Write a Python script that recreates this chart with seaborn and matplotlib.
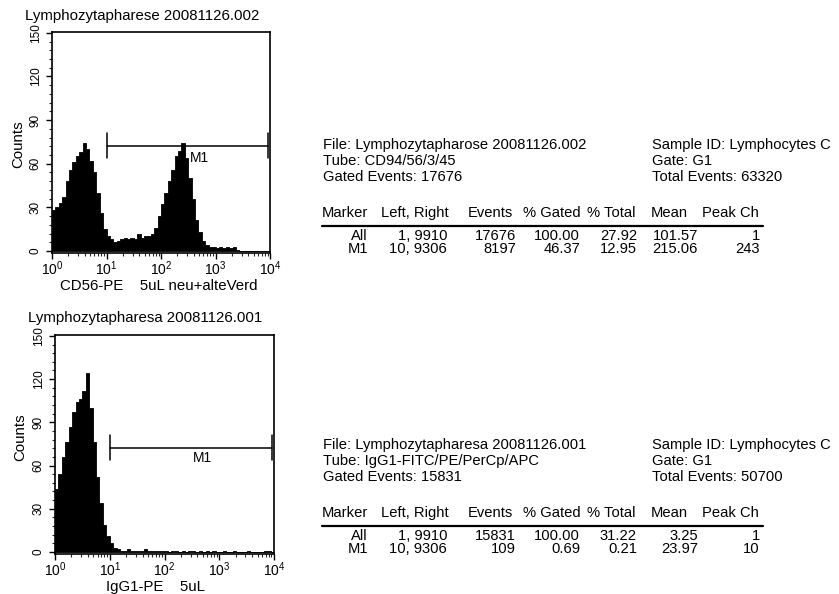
import numpy as np
import pandas as pd
import matplotlib
matplotlib.use("Agg")
import matplotlib.pyplot as plt
import seaborn as sns
from matplotlib.ticker import FixedLocator, FixedFormatter, LogLocator, NullFormatter
from matplotlib.lines import Line2D

# ---------------- data ----------------
bins_per_decade = 16
n_decades = 4

top_counts = [28, 30, 33, 37, 48, 56, 61, 65, 68, 74, 70, 62, 54, 40, 26, 15,
              10, 8, 6, 7, 8, 9, 8, 9, 8, 12, 9, 10, 10, 12, 16, 24,
              32, 40, 48, 56, 65, 69, 74, 64, 50, 36, 21, 13, 7, 4, 3, 3,
              2, 3, 2, 3, 2, 3, 1, 0, 0, 0, 0, 0, 0, 0, 0, 0]
bottom_counts = [44, 54, 66, 76, 87, 97, 104, 106, 112, 124, 100, 76, 52, 34, 19, 11,
                 6, 3, 2, 1, 1, 2, 1, 1, 1, 1, 2, 1, 1, 1, 1, 1,
                 1, 0, 1, 1, 0, 1, 0, 1, 1, 0, 1, 0, 1, 0, 1, 0,
                 0, 1, 0, 0, 1, 0, 0, 0, 1, 0, 0, 0, 0, 1, 1, 0]

top_title = "Lymphozytapharese 20081126.002"
bottom_title = "Lymphozytapharesa 20081126.001"
top_xlabel = "CD56-PE    5uL neu+alteVerd"
bottom_xlabel = "IgG1-PE    5uL"
ylabel = "Counts"
x_ticks = [1, 10, 100, 1000, 10000]
x_ticklabels = ["$10^{0}$", "$10^{1}$", "$10^{2}$", "$10^{3}$", "$10^{4}$"]
y_ticks = [0, 30, 60, 90, 120, 150]
marker_level = 72
marker_label = "M1"

top_info_left = ["File: Lymphozytapharose 20081126.002", "Tube: CD94/56/3/45", "Gated Events: 17676"]
top_info_right = ["Sample ID: Lymphocytes C", "Gate: G1", "Total Events: 63320"]
bottom_info_left = ["File: Lymphozytapharesa 20081126.001", "Tube: IgG1-FITC/PE/PerCp/APC", "Gated Events: 15831"]
bottom_info_right = ["Sample ID: Lymphocytes C", "Gate: G1", "Total Events: 50700"]

table_header = ["Marker", "Left, Right", "Events", "% Gated", "% Total", "Mean", "Peak Ch"]
top_rows = [["All", "1, 9910", "17676", "100.00", "27.92", "101.57", "1"],
            ["M1", "10, 9306", "8197", "46.37", "12.95", "215.06", "243"]]
bottom_rows = [["All", "1, 9910", "15831", "100.00", "31.22", "3.25", "1"],
               ["M1", "10, 9306", "109", "0.69", "0.21", "23.97", "10"]]
m1_left, m1_right = 10, 9306

# ---------------- style ----------------
sns.set_theme(style="white")
plt.rcParams['font.family'] = ['Liberation Sans', 'DejaVu Sans']
plt.rcParams['mathtext.fontset'] = 'custom'
plt.rcParams['mathtext.rm'] = 'Liberation Sans'
plt.rcParams['mathtext.it'] = 'Liberation Sans:italic'
plt.rcParams['mathtext.bf'] = 'Liberation Sans:bold'

W, H = 839, 594
fig = plt.figure(figsize=(W / 100, H / 100), dpi=100)
fig.patch.set_facecolor("white")

INFO_FS = 10.6


def fx(px):
    return px / W


def fy(py):
    return 1 - py / H


def make_panel(counts, box, title, title_xy, xlabel, xlabel_xy, ylabel_xy, m1_y):
    l, t, r, b = box
    ax = fig.add_axes([fx(l), fy(b), (r - l) / W, (b - t) / H])
    n = len(counts)
    edges = np.linspace(0, n_decades, n + 1)
    centers = 10 ** ((edges[:-1] + edges[1:]) / 2)
    df = pd.DataFrame({"fl": centers, "count": counts})
    sns.histplot(data=df, x="fl", weights="count", bins=n, binrange=(0, n_decades),
                 log_scale=True, element="step", fill=True, color="black",
                 alpha=1, linewidth=0.6, edgecolor="black", ax=ax)
    ax.set_xlim(1, 10000)
    ax.set_ylim(-1.4, 150.6)
    ax.set_xlabel("")
    ax.set_ylabel("")
    ax.xaxis.set_major_locator(FixedLocator(x_ticks))
    ax.xaxis.set_major_formatter(FixedFormatter(x_ticklabels))
    ax.xaxis.set_minor_locator(LogLocator(base=10, subs=np.arange(2, 10), numticks=20))
    ax.xaxis.set_minor_formatter(NullFormatter())
    ax.yaxis.set_major_locator(FixedLocator(y_ticks))
    ax.yaxis.set_minor_locator(FixedLocator(np.arange(0, 151, 6)))
    ax.tick_params(axis="x", which="major", direction="out", length=4.0, width=1.0,
                   labelsize=10, pad=0.5, colors="black", bottom=True)
    ax.tick_params(axis="x", which="minor", direction="out", length=2.5, width=0.8, bottom=True)
    ax.tick_params(axis="y", which="major", direction="out", length=4.5, width=1.0,
                   labelsize=8.5, pad=3.0, colors="black", left=True)
    ax.tick_params(axis="y", which="minor", direction="out", length=2.5, width=0.8, left=True)
    for lab in ax.get_yticklabels():
        lab.set_rotation(90)
        lab.set_va("center")
    for s in ax.spines.values():
        s.set_visible(True)
        s.set_color("black")
        s.set_linewidth(1.2)
    # marker M1
    ax.plot([m1_left, m1_right], [marker_level, marker_level], color="black", lw=1.1)
    for xv in (m1_left, m1_right):
        ax.plot([xv, xv], [marker_level - 8, marker_level + 9], color="black", lw=1.1)
    ax.text(10 ** 2.7, m1_y, marker_label, ha="center", va="center", fontsize=10, color="black")
    fig.text(fx(title_xy[0]), fy(title_xy[1]), title, ha="left", va="center",
             fontsize=10.8, color="black")
    fig.text(fx(xlabel_xy[0]), fy(xlabel_xy[1]), xlabel, ha="center", va="center",
             fontsize=10.8, color="black")
    fig.text(fx(ylabel_xy[0]), fy(ylabel_xy[1]), ylabel, ha="center", va="center",
             rotation=90, fontsize=10.8, color="black")
    return ax


make_panel(top_counts, (52, 32, 270, 253), top_title, (25, 16), top_xlabel,
           (159, 285.5), (18, 144.5), 64)
make_panel(bottom_counts, (55, 335, 274, 554), bottom_title, (28, 318), bottom_xlabel,
           (155, 586.5), (20, 437), 65)

header_left_x = [322, 381, 468, 523, 587, 651, 702]
value_right_x = [368, 447, 516, 580, 637, 698, 760]


def info_block(y0, left_lines, right_lines, rows):
    for i, (a, b) in enumerate(zip(left_lines, right_lines)):
        fig.text(fx(323), fy(y0 + 16 * i), a, ha="left", va="center", fontsize=INFO_FS, color="black")
        fig.text(fx(652), fy(y0 + 16 * i), b, ha="left", va="center", fontsize=INFO_FS, color="black")
    hy = y0 + 68
    for x, h in zip(header_left_x, table_header):
        fig.text(fx(x), fy(hy), h, ha="left", va="center", fontsize=INFO_FS, color="black")
    fig.add_artist(Line2D([fx(322), fx(763)], [fy(hy + 13), fy(hy + 13)], color="black", lw=1.6))
    for j, row in enumerate(rows):
        ry = hy + 23 + 13 * j
        for x, v in zip(value_right_x, row):
            fig.text(fx(x), fy(ry), v, ha="right", va="center", fontsize=INFO_FS, color="black")


info_block(145, top_info_left, top_info_right, top_rows)
info_block(445, bottom_info_left, bottom_info_right, bottom_rows)

fig.savefig("out.png", dpi=100, facecolor="white")
